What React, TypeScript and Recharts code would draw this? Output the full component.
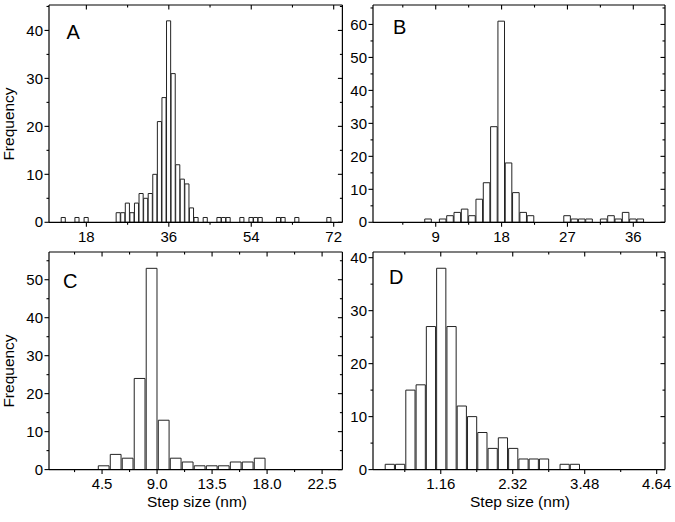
import { BarChart, Bar, XAxis, YAxis } from 'recharts'

const FONT = '"Liberation Sans", Arial, sans-serif'

// A
const stepA = [13, 16, 18, 25, 26, 27, 28, 29, 30, 31, 32, 33, 34, 35, 36, 37, 38, 39, 40, 41, 42, 44, 47, 48, 49, 52, 54, 55, 56, 60, 61, 64, 71]
const countA = [1, 1, 1, 2, 2, 4, 2, 4, 6, 5, 6, 10, 21, 26, 42, 31, 12, 9, 8, 3, 1, 1, 1, 1, 1, 1, 1, 1, 1, 1, 1, 1, 1]
const xDomainA = [9.84, 73.9]
const xTicksA = [18, 27, 36, 45, 54, 63, 72]
const xLabelsA = [18, 36, 54, 72]
const yDomainA = [0, 45.3]
const yTicksA = [0, 5, 10, 15, 20, 25, 30, 35, 40, 45]
const yLabelsA = [0, 10, 20, 30, 40]

// B
const stepB = [8, 10, 11, 12, 13, 14, 15, 16, 17, 18, 19, 20, 21, 22, 27, 28, 29, 30, 32, 33, 34, 35, 36, 37]
const countB = [1, 1, 2, 3, 4, 2, 7, 12, 29, 61, 18, 9, 3, 2, 2, 1, 1, 1, 1, 2, 1, 3, 1, 1]
const xDomainB = [0.43, 40.33]
const xTicksB = [4.5, 9, 13.5, 18, 22.5, 27, 31.5, 36]
const xLabelsB = [9, 18, 27, 36]
const yDomainB = [0, 65.9]
const yTicksB = [0, 5, 10, 15, 20, 25, 30, 35, 40, 45, 50, 55, 60, 65]
const yLabelsB = [0, 10, 20, 30, 40, 50, 60]

// C
const stepC = [4.6, 5.58, 6.56, 7.54, 8.52, 9.51, 10.49, 11.47, 12.45, 13.44, 14.42, 15.4, 16.38, 17.36]
const countC = [1, 4, 3, 24, 53, 13, 3, 2, 1, 1, 1, 2, 2, 3]
const xDomainC = [0.16, 24.16]
const xTicksC = [2.25, 4.5, 6.75, 9, 11.25, 13.5, 15.75, 18, 20.25, 22.5]
const xLabelsC = [4.5, 9, 13.5, 18, 22.5]
const yDomainC = [0, 57.3]
const yTicksC = [0, 5, 10, 15, 20, 25, 30, 35, 40, 45, 50, 55]
const yLabelsC = [0, 10, 20, 30, 40, 50]

// D
const stepD = [0.331, 0.497, 0.663, 0.829, 0.994, 1.16, 1.326, 1.491, 1.657, 1.823, 1.989, 2.154, 2.32, 2.486, 2.651, 2.817, 3.149, 3.314]
const countD = [1, 1, 15, 16, 27, 38, 27, 12, 10, 7, 4, 6, 4, 2, 2, 2, 1, 1]
const xDomainD = [0.068, 4.774]
const xTicksD = [0.58, 1.16, 1.74, 2.32, 2.9, 3.48, 4.06, 4.64]
const xLabelsD = [1.16, 2.32, 3.48, 4.64]
const yDomainD = [0, 41.07]
const yTicksD = [0, 5, 10, 15, 20, 25, 30, 35, 40]
const yLabelsD = [0, 10, 20, 30, 40]

const isMajor = (labels: number[], v: number) => labels.some((m) => Math.abs(m - v) < 1e-6)

function makeTick(side: string, labels: number[], fmt: (v: number) => string) {
  return (props: any) => {
    const { x, y, payload } = props
    const v = payload.value
    const major = isMajor(labels, v)
    const len = major ? 4.5 : 2.5
    const text = { fontFamily: FONT, fontSize: 15, fill: '#000' }
    if (side === 'bottom')
      return (
        <g>
          <line x1={x} y1={y} x2={x} y2={y + len} stroke="#000" strokeWidth={1.1} />
          {major && <text x={x} y={y + 19.5} textAnchor="middle" {...text}>{fmt(v)}</text>}
        </g>
      )
    if (side === 'left')
      return (
        <g>
          <line x1={x} y1={y} x2={x - len} y2={y} stroke="#000" strokeWidth={1.1} />
          {major && <text x={x - 6} y={y + 5.2} textAnchor="end" {...text}>{fmt(v)}</text>}
        </g>
      )
    if (side === 'top') return <line x1={x} y1={y} x2={x} y2={y + len} stroke="#000" strokeWidth={1.1} />
    return <line x1={x} y1={y} x2={x - len} y2={y} stroke="#000" strokeWidth={1.1} />
  }
}

interface PanelProps {
  steps: number[]
  counts: number[]
  xDomain: number[]
  xTicks: number[]
  xLabels: number[]
  xFmt: (v: number) => string
  yDomain: number[]
  yTicks: number[]
  yLabels: number[]
  box: number[] // left, top, right, bottom of plot area
}

function Panel({ steps, counts, xDomain, xTicks, xLabels, xFmt, yDomain, yTicks, yLabels, box }: PanelProps) {
  const [l, t, r, b] = box
  const data = steps.map((x, i) => ({ x, count: counts[i] }))
  const axisLine = { stroke: '#000', strokeWidth: 1.2 }
  const yFmt = (v: number) => String(v)
  return (
    <div style={{ position: 'absolute', left: l - 50, top: t - 11 }}>
      <BarChart
        width={r - l + 71}
        height={b - t + 56}
        data={data}
        margin={{ top: 10, right: 20, bottom: 0, left: 0 }}
        barCategoryGap={0}
        barGap={0}
      >
        <XAxis
          xAxisId="bottom"
          dataKey="x"
          type="number"
          domain={xDomain}
          allowDataOverflow
          ticks={xTicks}
          interval={0}
          height={45}
          tickLine={false}
          tickSize={0}
          tickMargin={0}
          axisLine={axisLine}
          tick={makeTick('bottom', xLabels, xFmt)}
        />
        <XAxis
          xAxisId="top"
          orientation="top"
          dataKey="x"
          type="number"
          domain={xDomain}
          allowDataOverflow
          ticks={xTicks}
          interval={0}
          height={1}
          tickLine={false}
          tickSize={0}
          tickMargin={0}
          axisLine={axisLine}
          tick={makeTick('top', xLabels, xFmt)}
        />
        <YAxis
          yAxisId="left"
          type="number"
          domain={yDomain}
          allowDataOverflow
          ticks={yTicks}
          interval={0}
          width={50}
          tickLine={false}
          tickSize={0}
          tickMargin={0}
          axisLine={axisLine}
          tick={makeTick('left', yLabels, yFmt)}
        />
        <YAxis
          yAxisId="right"
          orientation="right"
          type="number"
          domain={yDomain}
          allowDataOverflow
          ticks={yTicks}
          interval={0}
          width={1}
          tickLine={false}
          tickSize={0}
          tickMargin={0}
          axisLine={axisLine}
          tick={makeTick('right', yLabels, yFmt)}
        />
        <Bar
          dataKey="count"
          xAxisId="bottom"
          yAxisId="left"
          fill="#fff"
          stroke="#222"
          strokeWidth={1}
          barSize={'99.9%' as any}
          isAnimationActive={false}
        />
      </BarChart>
    </div>
  )
}

export default function App() {
  const title = { fontFamily: FONT, fontSize: 15.5, fill: '#000' }
  const letter = { fontFamily: FONT, fontSize: 20, fill: '#000' }
  return (
    <div style={{ position: 'absolute', left: 0, top: 0, width: 675, height: 522, background: '#fff', overflow: 'hidden' }}>
      <Panel steps={stepA} counts={countA} xDomain={xDomainA} xTicks={xTicksA} xLabels={xLabelsA} xFmt={(v) => String(v)}
        yDomain={yDomainA} yTicks={yTicksA} yLabels={yLabelsA} box={[49.3, 5, 342.7, 222.3]} />
      <Panel steps={stepB} counts={countB} xDomain={xDomainB} xTicks={xTicksB} xLabels={xLabelsB} xFmt={(v) => String(v)}
        yDomain={yDomainB} yTicks={yTicksB} yLabels={yLabelsB} box={[373.3, 5, 665.3, 222.3]} />
      <Panel steps={stepC} counts={countC} xDomain={xDomainC} xTicks={xTicksC} xLabels={xLabelsC} xFmt={(v) => v.toFixed(1)}
        yDomain={yDomainC} yTicks={yTicksC} yLabels={yLabelsC} box={[49.3, 251.7, 342.7, 469.3]} />
      <Panel steps={stepD} counts={countD} xDomain={xDomainD} xTicks={xTicksD} xLabels={xLabelsD} xFmt={(v) => v.toFixed(2)}
        yDomain={yDomainD} yTicks={yTicksD} yLabels={yLabelsD} box={[373.3, 251.7, 665.3, 469.3]} />
      <svg width={675} height={522} style={{ position: 'absolute', left: 0, top: 0, pointerEvents: 'none' }}>
        <text transform="translate(13.5,124) rotate(-90)" textAnchor="middle" {...title}>Frequency</text>
        <text transform="translate(13.5,371) rotate(-90)" textAnchor="middle" {...title}>Frequency</text>
        <text x={197} y={507} textAnchor="middle" {...title}>Step size (nm)</text>
        <text x={520} y={507} textAnchor="middle" {...title}>Step size (nm)</text>
        <text x={66.5} y={39.3} {...letter}>A</text>
        <text x={393} y={33.5} {...letter}>B</text>
        <text x={63} y={288.3} {...letter}>C</text>
        <text x={389} y={284.3} {...letter}>D</text>
      </svg>
    </div>
  )
}
